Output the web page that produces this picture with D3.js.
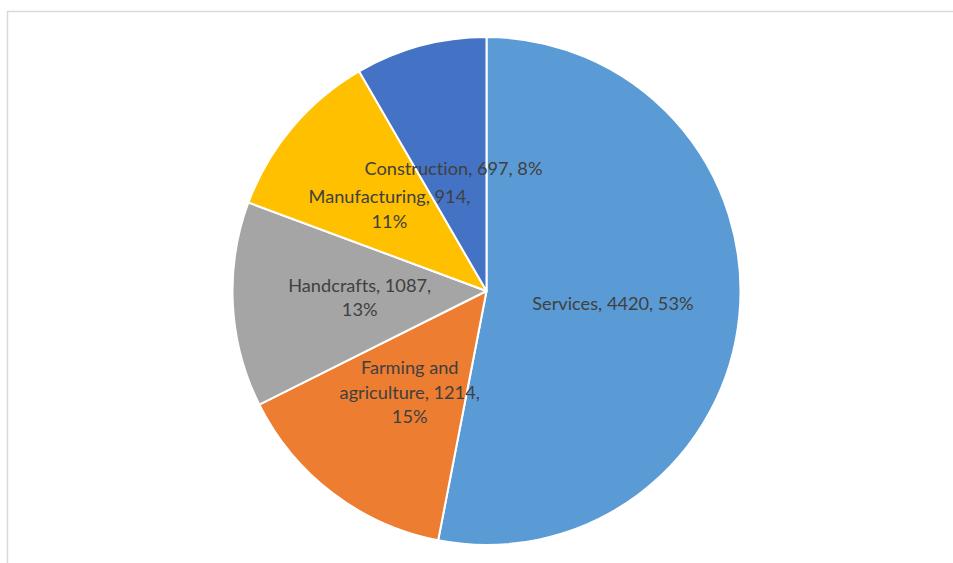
<!DOCTYPE html>
<html>
<head>
<meta charset="utf-8">
<script src="https://cdn.jsdelivr.net/npm/d3@7"></script>
<style>
  html, body { margin: 0; padding: 0; background: #fff; }
  svg { display: block; }
  text { font-variant-ligatures: none; }
</style>
</head>
<body>
<svg id="chart" width="953" height="563"></svg>
<script>
// Employment by sector
const categories = ["Services", "Farming and agriculture", "Handcrafts", "Manufacturing", "Construction"];
const values = [4420, 1214, 1087, 914, 697];
const colors = ["#5B9BD5", "#ED7D31", "#A5A5A5", "#FFC000", "#4472C4"];
// Where each data label wraps onto a new line
const labelLines = [
  ["Services, 4420, 53%"],
  ["Farming and", "agriculture, 1214,", "15%"],
  ["Handcrafts, 1087,", "13%"],
  ["Manufacturing, 914,", "11%"],
  ["Construction, 697, 8%"]
];

const width = 953, height = 563;
const cx = 486.5, cy = 291, radius = 254;
const svg = d3.select("#chart");

// chart area frame
svg.append("rect")
  .attr("x", 7.5).attr("y", 11.5)
  .attr("width", width).attr("height", height)
  .attr("fill", "#fff")
  .attr("stroke", "#d9d9d9")
  .attr("stroke-width", 1.5);

const data = categories.map((c, i) => ({ name: c, value: values[i], color: colors[i], lines: labelLines[i] }));

const pie = d3.pie().sort(null).value(d => d.value);
const arcs = pie(data);
const arc = d3.arc().innerRadius(0).outerRadius(radius);
const labelArc = d3.arc().innerRadius(radius * 0.5).outerRadius(radius * 0.5);

const g = svg.append("g").attr("transform", `translate(${cx},${cy})`);

g.selectAll("path.slice")
  .data(arcs)
  .join("path")
  .attr("class", "slice")
  .attr("d", arc)
  .attr("fill", d => d.data.color)
  .attr("stroke", "#fff")
  .attr("stroke-width", 2)
  .attr("stroke-linejoin", "round");

const lineHeight = 24.5;
const labels = g.selectAll("text.label")
  .data(arcs)
  .join("text")
  .attr("class", "label")
  .attr("transform", d => `translate(${labelArc.centroid(d)})`)
  .attr("text-anchor", "middle")
  .attr("font-family", "Lato, 'Open Sans', sans-serif")
  .attr("font-size", 18.2)
  .attr("fill", "#404040");

labels.each(function(d) {
  const n = d.data.lines.length;
  const t = d3.select(this);
  d.data.lines.forEach((ln, i) => {
    t.append("tspan")
      .attr("x", 0)
      .attr("y", (i - (n - 1) / 2) * lineHeight)
      .attr("dy", "0.35em")
      .text(ln);
  });
});
</script>
</body>
</html>
